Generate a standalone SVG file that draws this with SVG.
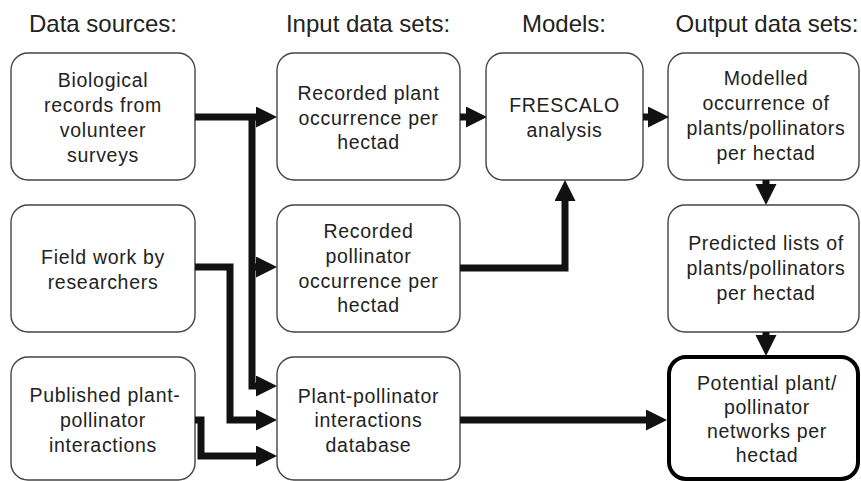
<svg xmlns="http://www.w3.org/2000/svg" width="861" height="481" viewBox="0 0 861 481">
<style>
.hdr{font-family:"Liberation Sans",Arial,sans-serif;font-size:24px;fill:#222;text-anchor:middle}
.lbl{font-family:"Liberation Sans",Arial,sans-serif;font-size:19.5px;letter-spacing:0.7px;fill:#222;text-anchor:middle}
.box{fill:#fff;stroke:#444;stroke-width:1.4}
.thick{fill:#fff;stroke:#000;stroke-width:4}
.con{fill:none;stroke:#111;stroke-width:7;stroke-linejoin:miter;marker-end:url(#ah)}
</style>
<defs>
<marker id="ah" markerUnits="userSpaceOnUse" markerWidth="22" markerHeight="22" refX="0" refY="10.5" orient="auto" viewBox="0 0 22 22">
<path d="M0,0 L21,10.5 L0,21 Z" fill="#111"/>
</marker>
</defs>
<rect width="861" height="481" fill="#fff"/>
<g id="headers">
<text class="hdr" x="103" y="32">Data sources:</text>
<text class="hdr" x="368" y="32">Input data sets:</text>
<text class="hdr" x="564" y="32">Models:</text>
<text class="hdr" x="767" y="32">Output data sets:</text>
</g>
<g id="n-bio">
<rect class="box" x="11" y="53" width="184" height="127" rx="17"/>
<text class="lbl" x="103" y="87">Biological</text>
<text class="lbl" x="103" y="112">records from</text>
<text class="lbl" x="103" y="137">volunteer</text>
<text class="lbl" x="103" y="162">surveys</text>
</g>
<g id="n-field">
<rect class="box" x="11" y="205" width="184" height="127" rx="17"/>
<text class="lbl" x="103" y="264">Field work by</text>
<text class="lbl" x="103" y="289">researchers</text>
</g>
<g id="n-pub">
<rect class="box" x="11" y="357" width="184" height="123" rx="17"/>
<text class="lbl" x="105" y="402">Published plant-</text>
<text class="lbl" x="103" y="427">pollinator</text>
<text class="lbl" x="103" y="452">interactions</text>
</g>
<g id="n-recplant">
<rect class="box" x="277" y="53" width="183" height="127" rx="17"/>
<text class="lbl" x="368.5" y="100">Recorded plant</text>
<text class="lbl" x="368.5" y="125">occurrence per</text>
<text class="lbl" x="368.5" y="149">hectad</text>
</g>
<g id="n-recpoll">
<rect class="box" x="277" y="205" width="183" height="127" rx="17"/>
<text class="lbl" x="368.5" y="238">Recorded</text>
<text class="lbl" x="368.5" y="263">pollinator</text>
<text class="lbl" x="368.5" y="288">occurrence per</text>
<text class="lbl" x="368.5" y="312">hectad</text>
</g>
<g id="n-db">
<rect class="box" x="277" y="357" width="183" height="123" rx="17"/>
<text class="lbl" x="368.5" y="403">Plant-pollinator</text>
<text class="lbl" x="368.5" y="427">interactions</text>
<text class="lbl" x="368.5" y="452">database</text>
</g>
<g id="n-fresc">
<rect class="box" x="486" y="53" width="157" height="127" rx="17"/>
<text class="lbl" x="564.5" y="112">FRESCALO</text>
<text class="lbl" x="564.5" y="137">analysis</text>
</g>
<g id="n-model">
<rect class="box" x="668" y="53" width="191" height="127" rx="17"/>
<text class="lbl" x="766" y="85">Modelled</text>
<text class="lbl" x="766" y="110">occurrence of</text>
<text class="lbl" x="766" y="135">plants/pollinators</text>
<text class="lbl" x="766" y="160">per hectad</text>
</g>
<g id="n-pred">
<rect class="box" x="668" y="205" width="191" height="127" rx="17"/>
<text class="lbl" x="766" y="250">Predicted lists of</text>
<text class="lbl" x="766" y="275">plants/pollinators</text>
<text class="lbl" x="766" y="300">per hectad</text>
</g>
<g id="n-net">
<rect class="thick" x="669" y="357" width="189" height="122" rx="17"/>
<text class="lbl" x="767" y="390">Potential plant/</text>
<text class="lbl" x="767" y="414">pollinator</text>
<text class="lbl" x="767" y="438">networks per</text>
<text class="lbl" x="767" y="462">hectad</text>
</g>
<g id="connectors">
<path class="con" d="M195,117 H256"/>
<path class="con" d="M252,117 V386 H256"/>
<path class="con" d="M252,267 H256"/>
<path class="con" d="M195,267 H230 V420 H256"/>
<path class="con" d="M195,420 H201 V456 H256"/>
<path class="con" d="M460,117 H466"/>
<path class="con" d="M643,117 H648"/>
<path class="con" d="M460,268 H565 V201"/>
<path class="con" d="M766,180 V184"/>
<path class="con" d="M766,332 V335"/>
<path class="con" d="M460,420 H646"/>
</g>
</svg>
